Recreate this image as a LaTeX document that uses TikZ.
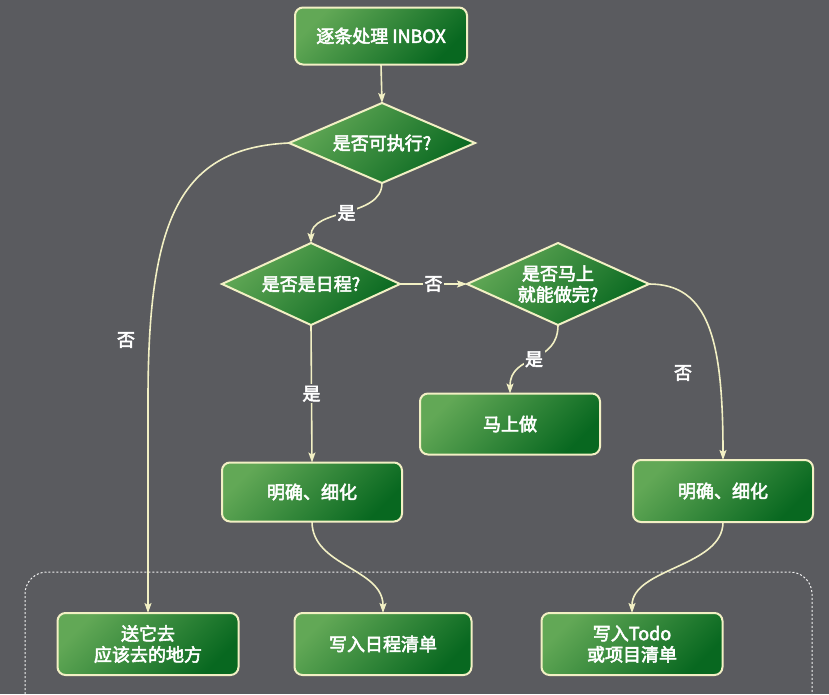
\documentclass[tikz,border=0pt]{standalone}
\usepackage{fontspec}
\newfontfamily\cjk{Noto Sans CJK SC}[FakeBold=3]
\usetikzlibrary{shapes.geometric,arrows.meta}
\definecolor{bg}{RGB}{90,91,95}
\definecolor{glight}{RGB}{98,168,86}
\definecolor{gdark}{RGB}{8,104,32}
\definecolor{cream}{RGB}{242,240,196}
\tikzset{
  greenfill/.style={left color=glight, right color=gdark, shading angle=45},
  box/.style={greenfill, draw=cream, line width=2pt, rounded corners=8pt,
    text=white, font=\cjk\fontsize{18}{21}\selectfont, align=center, inner sep=0pt, outer sep=0pt},
  dia/.style={diamond, aspect=2.25, greenfill, draw=cream, line width=2pt,
    text=white, font=\cjk\fontsize{18}{21}\selectfont, align=center, inner sep=0pt, outer sep=0pt},
  conn/.style={draw=cream, line width=1.6pt, -{Stealth[length=10pt,width=7pt,inset=2pt]}},
  lbl/.style={text=white, font=\cjk\fontsize{18}{21}\selectfont, fill=bg, inner sep=1.5pt},
  freelbl/.style={text=white, font=\cjk\fontsize{18}{21}\selectfont, inner sep=1pt},
  group/.style={draw=white!92!bg, line width=1pt, dash pattern=on 2pt off 2pt, rounded corners=22pt}
}
\begin{document}
\begin{tikzpicture}[x=1pt,y=-1pt]
\fill[bg] (0,0) rectangle (829,694);
\useasboundingbox (0,0) rectangle (829,694);
% group frame
\draw[group] (25,710) -- (25,572) -- (812,572) -- (812,710);
% nodes
\node[box, minimum width=172pt, minimum height=57pt] (inbox) at (381,36) {逐条处理 INBOX};
\node[dia, minimum width=186pt, minimum height=80pt] (d1) at (382,143) {是否可执行?};
\node[dia, minimum width=178pt, minimum height=82pt] (d2) at (311,284) {是否是日程?};
\node[dia, minimum width=182pt, minimum height=82pt] (d3) at (558,284) {是否马上\\就能做完?};
\node[box, minimum width=180pt, minimum height=61pt] (now) at (510,424) {马上做};
\node[box, minimum width=180pt, minimum height=59pt] (clarL) at (312,492) {明确、细化};
\node[box, minimum width=180pt, minimum height=62pt] (clarR) at (723,491) {明确、细化};
\node[box, minimum width=181pt, minimum height=62pt] (send) at (148,644) {送它去\\应该去的地方};
\node[box, minimum width=177pt, minimum height=62pt] (sched) at (383,644) {写入日程清单};
\node[box, minimum width=181pt, minimum height=62pt] (todo) at (632,644) {写入Todo\\或项目清单};
\coordinate (sendbend) at (148,400);
% connectors
\draw[conn] (inbox.south) -- (d1.north);
\draw[draw=cream, line width=1.6pt] (d1.west) .. controls +(-110,5) and +(0,-180) .. (sendbend);
\draw[conn] (sendbend) -- (send.north);
\node[freelbl] (no1) at (126,340) {否};
\draw[conn] (d1.south) .. controls +(0,35) and +(0,-35) .. node[lbl, pos=0.5] (yes1) {是} (d2.north);
\draw[conn] (d2.east) -- node[lbl, pos=0.5] (no2) {否} (d3.west);
\draw[conn] (d2.south) -- node[lbl, pos=0.5] (yes2) {是} (clarL.north);
\draw[conn] (d3.south) .. controls +(0,40) and +(0,-40) .. node[lbl, pos=0.5] (yes3) {是} (now.north);
\draw[conn] (d3.east) .. controls +(60,0) and +(0,-120) .. (clarR.north);
\node[freelbl] (no3) at (683,373) {否};
\draw[conn] (clarL.south) .. controls +(0,45) and +(0,-45) .. (sched.north);
\draw[conn] (clarR.south) .. controls +(0,45) and +(0,-45) .. (todo.north);
\end{tikzpicture}
\end{document}
